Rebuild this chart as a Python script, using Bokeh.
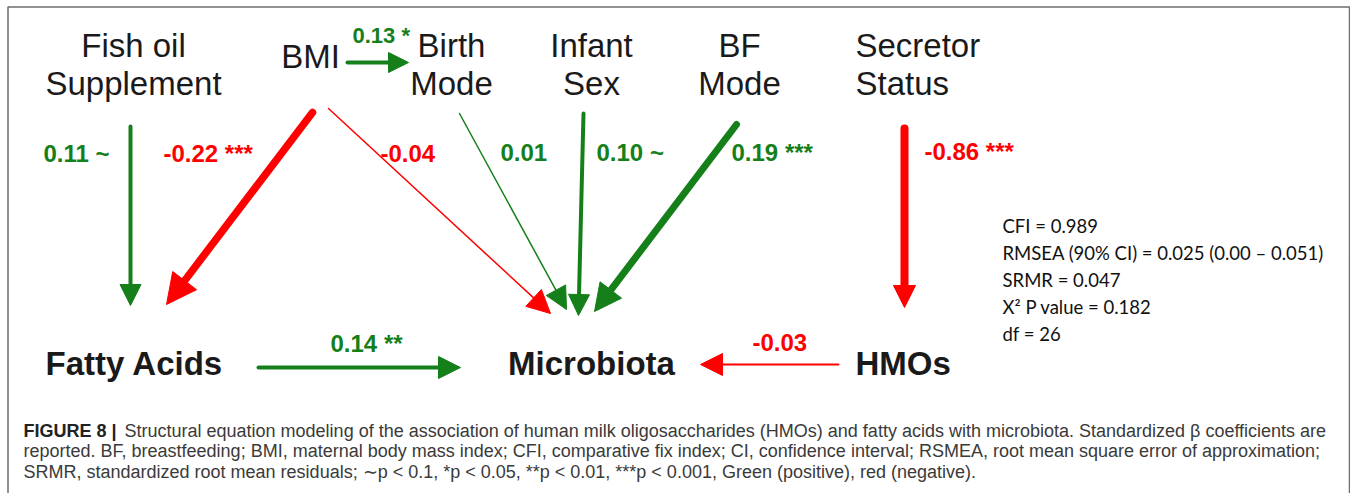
import math
from bokeh.plotting import figure
from bokeh.models import Range1d, Arrow, NormalHead
from bokeh.core.properties import value
from bokeh.embed import file_html
from bokeh.resources import INLINE

# ---------------- data ----------------
top_nodes = ["Fish oil\nSupplement", "BMI", "Birth\nMode", "Infant\nSex", "BF\nMode", "Secretor\nStatus"]
outcome_nodes = ["Fatty Acids", "Microbiota", "HMOs"]

path_from = ["Fish oil\nSupplement", "BMI", "BMI", "Birth\nMode", "Infant\nSex",
             "BF\nMode", "Secretor\nStatus", "Fatty Acids", "HMOs", "BMI"]
path_to = ["Fatty Acids", "Fatty Acids", "Microbiota", "Microbiota", "Microbiota",
           "Microbiota", "HMOs", "Microbiota", "Microbiota", "Birth\nMode"]
beta = [0.11, -0.22, -0.04, 0.01, 0.10, 0.19, -0.86, 0.14, -0.03, 0.13]
signif = ["~", "***", "", "", "~", "***", "***", "**", "", "*"]

fit_stats = ["CFI = 0.989",
             "RMSEA (90% CI) = 0.025 (0.00 \u2013 0.051)",
             "SRMR = 0.047",
             "X\u00b2 P value = 0.182",
             "df = 26"]

caption_head = "FIGURE 8 |"
caption_lines = [
    "Structural equation modeling of the association of human milk oligosaccharides (HMOs) and fatty acids with microbiota. Standardized \u03b2 coefficients are",
    "reported. BF, breastfeeding; BMI, maternal body mass index; CFI, comparative fix index; CI, confidence interval; RSMEA, root mean square error of approximation;",
    "SRMR, standardized root mean residuals; \u223cp < 0.1, *p < 0.05, **p < 0.01, ***p < 0.001, Green (positive), red (negative).",
]

# ---------------- layout (pixel space of the picture) ----------------
GREEN = "#15801a"
RED = "#ff0000"
INK = "#1a1a1a"
BASE_SHIFT = 0.37   # baseline correction (em) for the svg text placement

node_pos = {  # x, first baseline, align
    "Fish oil\nSupplement": (133, 57, "center"),
    "BMI": (310, 68, "center"),
    "Birth\nMode": (451, 57, "center"),
    "Infant\nSex": (591, 57, "center"),
    "BF\nMode": (739, 57, "center"),
    "Secretor\nStatus": (855, 57, "left"),
    "Fatty Acids": (134, 375, "center"),
    "Microbiota": (591, 375, "center"),
    "HMOs": (855, 375, "left"),
}
LINE_GAP = 38

# per edge geometry: start, end, line width, head size, label x, label baseline, label font px
edge_geom = [
    ((130, 126), (130, 305), 4, 21, 43, 162, 24),
    ((312, 112), (166, 304), 7.5, 30, 163, 162, 24),
    ((328, 108), (550, 313), 1.5, 23, 380, 162, 24),
    ((459, 113), (566, 309), 1.5, 22, 500, 161, 24),
    ((583, 113), (578, 315), 4, 21, 596, 161, 24),
    ((736, 124), (594, 311), 7, 27, 731, 161, 24),
    ((904, 128), (904, 307), 8, 22, 924, 160, 24),
    ((258, 367), (460, 367), 4, 22, 330, 352, 24),
    ((838, 364), (700, 364), 2, 22, 752, 351, 24),
    ((347, 62), (408, 62), 4, 20, 352, 43, 22),
]

W, H = 1350, 493
p = figure(width=W, height=H, x_range=Range1d(0, W), y_range=Range1d(H, 0),
           output_backend="svg", toolbar_location=None, min_border=0,
           x_axis_type=None, y_axis_type=None)
p.outline_line_color = None
p.background_fill_color = "white"


def put_text(xs, baselines, texts, font, size, color, style="normal", align="left"):
    p.text(x=list(xs), y=[b - BASE_SHIFT * size for b in baselines], text=list(texts),
           text_font=value(font), text_font_size=f"{size}px", text_font_style=style,
           text_color=color, text_align=align, text_baseline="alphabetic")


# frame box
p.quad(left=[7.5], right=[W - 1], top=[6.5], bottom=[H + 20], fill_color=None,
       line_color="#6e6e6e", line_width=1.5)

# node labels
for name in top_nodes + outcome_nodes:
    x, y0, align = node_pos[name]
    bold = name in outcome_nodes
    lines = name.split("\n")
    put_text([x] * len(lines), [y0 + k * LINE_GAP for k in range(len(lines))], lines,
             "Liberation Sans", 33, INK, "bold" if bold else "normal", align)

# paths
for i in range(len(beta)):
    (xs, ys), (xe, ye), lw, hs, lx, ly, fs = edge_geom[i]
    col = GREEN if beta[i] > 0 else RED
    L = math.hypot(xe - xs, ye - ys)
    ux, uy = (xe - xs) / L, (ye - ys) / L
    back = hs * 0.6
    p.segment(x0=[xs], y0=[ys], x1=[xe - ux * back], y1=[ye - uy * back],
              line_color=col, line_width=lw, line_cap="round")
    p.add_layout(Arrow(end=NormalHead(size=hs, fill_color=col, line_color=col, line_width=1),
                       x_start=xs, y_start=ys, x_end=xe, y_end=ye,
                       line_alpha=0.0))
    label = f"{beta[i]:.2f} {signif[i]}".strip()
    put_text([lx], [ly], [label], "Liberation Sans", fs, col, "bold")

# fit statistics
put_text([1002] * len(fit_stats), [232 + 27.2 * k for k in range(len(fit_stats))],
         fit_stats, "Lato", 18.5, "#111111")

# caption
put_text([23], [437], [caption_head], "Liberation Sans", 18, "#222222", "bold")
put_text([124, 23, 23], [437, 457.5, 478], caption_lines, "Liberation Sans", 18, "#3a3a3a")

open("out.html", "w").write(file_html(p, INLINE))
